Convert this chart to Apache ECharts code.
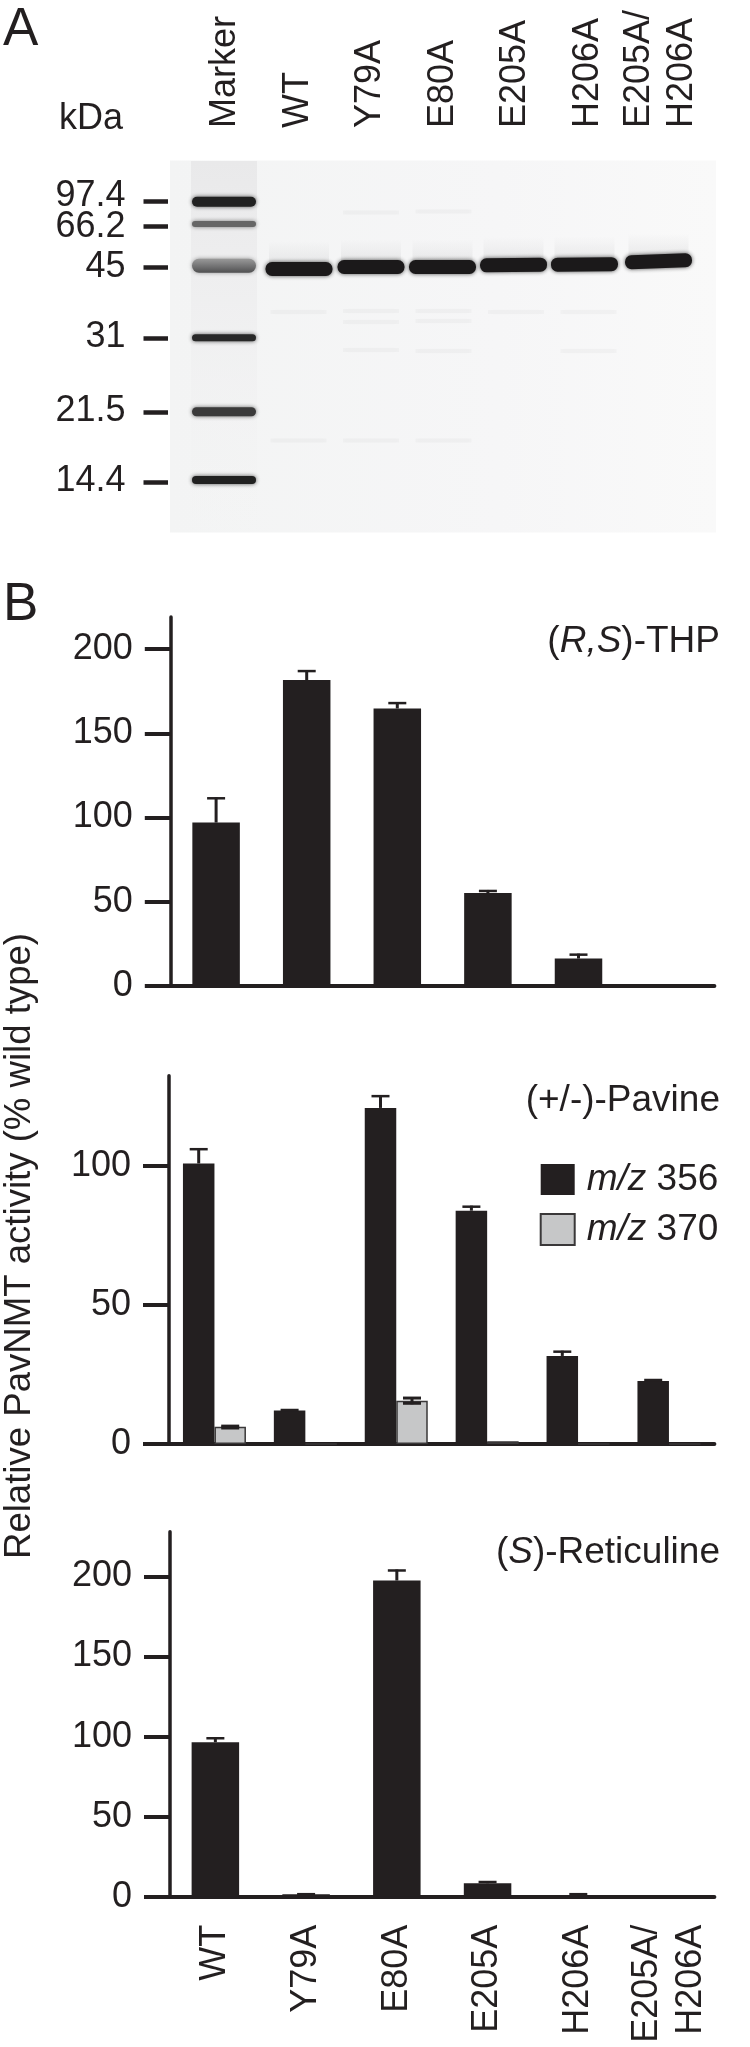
<!DOCTYPE html>
<html>
<head>
<meta charset="utf-8">
<style>html,body{margin:0;padding:0;background:#fff}#c{width:750px;height:2047px}</style>
<script src="https://cdn.jsdelivr.net/npm/echarts@6/dist/echarts.min.js"></script>
</head>
<body>
<div id="c"></div>
<script>
// ---- data ----
const lanes = ['Marker','WT','Y79A','E80A','E205A','H206A','E205A/\nH206A'];
const mutants = ['WT','Y79A','E80A','E205A','H206A','E205A/\nH206A'];
// Gel: migration distance from the top of the gel
const kdaLabels = ['97.4','66.2','45','31','21.5','14.4'];
const kdaTickMigration = [39.8,65,106,177,251,321];
const kdaLabelMigration = [34.6,66.4,106,176,250.5,320];
const markerMigration = [40.7,63,104.7,176.7,250.7,319];
const markerDarkness = [0.95,0.68,0.55,0.92,0.85,0.95];
const markerThickness = [10,6,14,7,9,8];
const sampleMigration = [108,106,106,104,103.4,100.3];
const faintMigration = [
  [2,51.5],[3,50.5],
  [1,151],[2,150],[3,150],[4,151],[5,151],
  [2,161],[3,160],
  [2,189],[3,190],[5,190],
  [1,279.5],[2,279.5],[3,279.5]
];
// Panel B, values (%)
const thp = [97,181.6,164.7,55.2,16.3,0];
const thpErr = [112,187.5,168.5,57,19.2,0];
const pavine356 = [101,12.1,121,84,31.7,22.7];
const pavine356Err = [106.5,12.6,125.6,85.8,33.6,23.4];
const pavine370 = [6.2,0,15.6,1,0,0];
const pavine370Hi = [6.8,0,16.9,0,0,0];
const pavine370Lo = [5.4,0,14.3,0,0,0];
const ret = [96.5,1.5,197.5,8.4,0.5,0];
const retErr = [99.6,2.2,204.4,9.8,2.2,0];
const ticksThp = [0,50,100,150,200];
const ticksPav = [0,50,100];
const ticksRet = [0,50,100,150,200];
// ---- style ----
const INK = '#231f20', FONT = '"Liberation Sans", Arial, sans-serif';
const sampleDrift = [1,0.5,-0.5,-2,-3.5,-2];
const sampleTilt = [0,0,0,0.01,0.01,0.035];

function errSeries(x, y, hi, lo, shift, both) {
  return {
    type:'custom', xAxisIndex:x, yAxisIndex:y, z:5, silent:true, clip:false,
    data: hi.map((h,i)=>[i,h,lo[i]]).filter(d=>d[1]>0),
    renderItem(p, api){
      const i = api.value(0), top = api.coord([i, api.value(1)]);
      const base = api.coord([i, api.value(2)]);
      const cx = top[0]+shift, s={stroke:INK,lineWidth:3};
      const kids=[
        {type:'line',shape:{x1:cx,y1:top[1],x2:cx,y2:base[1]},style:s},
        {type:'line',shape:{x1:cx-9,y1:top[1]+1,x2:cx+9,y2:top[1]+1},style:{stroke:INK,lineWidth:both?3:2.5}}
      ];
      if(both) kids.push({type:'line',shape:{x1:cx-9,y1:base[1]-1,x2:cx+9,y2:base[1]-1},style:{stroke:INK,lineWidth:3}});
      return {type:'group',children:kids};
    }
  };
}
const vGrad = (stops)=>({type:'linear',x:0,y:0,x2:0,y2:1,colorStops:stops});
function yAx(grid,max,ticks){
  return {type:'value',gridIndex:grid,min:0,max:max,splitLine:{show:false},
    axisLine:{show:true,onZero:false,lineStyle:{color:INK,width:3.5}},
    axisTick:{show:true,length:26,lineStyle:{color:INK,width:4},customValues:ticks},
    axisLabel:{show:true,margin:38,color:INK,fontFamily:FONT,fontSize:36,customValues:ticks}};
}
function xAx(grid,showLabels){
  return {type:'category',gridIndex:grid,data:mutants,
    axisLine:{show:true,onZero:false,lineStyle:{color:INK,width:4}},axisTick:{show:false},
    axisLabel:showLabels?{show:true,rotate:90,interval:0,margin:28,color:INK,fontFamily:FONT,fontSize:36,lineHeight:44.5,align:'right',verticalAlign:'middle',overflow:'none'}:{show:false}};
}
function bar(name,x,y,data,color,w,extra){
  return Object.assign({name,type:'bar',xAxisIndex:x,yAxisIndex:y,data,barWidth:w,barGap:0,silent:true,itemStyle:{color}},extra||{});
}
function titleAt(text,cy){
  return {text,right:30,top:cy-16,padding:0,textStyle:{color:INK,fontFamily:FONT,fontSize:37,fontWeight:'normal',lineHeight:40,
    rich:{i:{fontStyle:'italic',color:INK,fontFamily:FONT,fontSize:37,lineHeight:40}}}};
}
function letter(text,cy){
  return {text,left:3,top:cy-30,padding:0,textStyle:{color:INK,fontFamily:FONT,fontSize:53,fontWeight:'normal',lineHeight:60}};
}
// gel kDa axis: two stacked axes, so closely spaced labels are both kept
function gelAx(tickVals,labelVals){
  return {type:'value',gridIndex:0,position:'left',inverse:true,min:0,max:371,offset:21.25,splitLine:{show:false},axisLine:{show:false,onZero:false},
    axisTick:{show:!!tickVals,length:24.5,lineStyle:{color:INK,width:4.5},customValues:tickVals||[]},
    axisLabel:{show:true,showMinLabel:true,showMaxLabel:true,hideOverlap:false,margin:42.5,color:INK,fontFamily:FONT,fontSize:36,customValues:labelVals,
      formatter:v=>kdaLabels[kdaLabelMigration.indexOf(v)]}};
}

const option = {
  animation:false, backgroundColor:'#fff',
  title:[ letter('A',30), letter('B',605),
    titleAt('({i|R,S})-THP',638), titleAt('(+/-)-Pavine',1097), titleAt('({i|S})-Reticuline',1549),
    {text:'kDa',left:59,top:99,padding:0,textStyle:{color:INK,fontFamily:FONT,fontSize:36,fontWeight:'normal',lineHeight:40}}
  ],
  legend:{ data:['m/z 356','m/z 370'], orient:'vertical', left:539.7, top:1161, padding:0, icon:'rect', itemWidth:34, itemHeight:31, itemGap:13, selectedMode:false,
    formatter:n=>'{i|m/z} {n|'+n.split(' ')[1]+'}',
    textStyle:{color:INK,fontFamily:FONT,fontSize:37,lineHeight:31,
      rich:{i:{fontStyle:'italic',fontSize:37,color:INK,fontFamily:FONT,lineHeight:31,padding:[0,0,0,7]},n:{fontSize:37,color:INK,fontFamily:FONT,lineHeight:31}}}},
  graphic:[
    {type:'rect',z:0,silent:true,shape:{x:170,y:160.5,width:546,height:372},
     style:{fill:{type:'linear',x:0,y:0,x2:1,y2:0,colorStops:[{offset:0,color:'#f3f4f4'},{offset:.6,color:'#f6f6f7'},{offset:1,color:'#f9f9f9'}]}}},
    {type:'text',z:10,silent:true,x:19.5,y:1246,rotation:Math.PI/2,
     style:{text:'Relative PavNMT activity (% wild type)',fill:INK,font:'36.6px '+FONT,align:'center',verticalAlign:'middle'}}
  ],
  grid:[
    {left:189.25,width:507.5,top:161,height:371},
    {left:170.8,width:543.6,top:617,height:369},
    {left:169,width:545.4,top:1075.7,height:368.3},
    {left:170,width:544.4,top:1531.7,height:365}
  ],
  xAxis:[
    {type:'category',gridIndex:0,position:'top',data:lanes,axisLine:{show:false,onZero:false},axisTick:{show:false},
     axisLabel:{show:true,rotate:-90,interval:0,margin:33,color:INK,fontFamily:FONT,fontSize:36,lineHeight:43,align:'left',verticalAlign:'middle',overflow:'none'}},
    xAx(1,false), xAx(2,false), xAx(3,true)
  ],
  yAxis:[
    gelAx(kdaTickMigration,kdaLabelMigration.filter((v,i)=>i!==1)),
    yAx(1,219,ticksThp), yAx(2,132.6,ticksPav), yAx(3,228,ticksRet),
    gelAx(null,[kdaLabelMigration[1]])
  ],
  series:[
    // gel: marker-lane background
    {type:'custom',xAxisIndex:0,yAxisIndex:0,silent:true,z:1,data:[[0,0,371]],
     renderItem(p,api){
       const a=api.coord([0,api.value(1)]),b=api.coord([0,api.value(2)]);
       return {type:'rect',shape:{x:a[0]-34.5,y:a[1],width:66,height:b[1]-a[1]},
         style:{fill:vGrad([{offset:0,color:'#e9e9ea'},{offset:.3,color:'#eeeeef'},{offset:.7,color:'rgba(240,240,241,.4)'},{offset:1,color:'rgba(242,242,242,0)'}])}};
     }},
    // gel: faint contaminant bands
    {type:'custom',xAxisIndex:0,yAxisIndex:0,silent:true,z:2,data:faintMigration,
     renderItem(p,api){
       const c=api.coord([api.value(0),api.value(1)]);
       return {type:'rect',shape:{x:c[0]-27.5,y:c[1]-2,width:56,height:4},
         style:{fill:'rgba(170,170,175,.07)',shadowBlur:6,shadowColor:'rgba(170,170,175,.18)'}};
     }},
    // gel: marker bands
    {type:'custom',xAxisIndex:0,yAxisIndex:0,silent:true,z:3,data:markerMigration.map((m,i)=>[0,m,i]),
     renderItem(p,api){
       const i=api.value(2),c=api.coord([0,api.value(1)]),h=markerThickness[i],d=markerDarkness[i];
       const g=Math.round(255*(1-d))+20;
       const dark='rgb('+g+','+g+','+g+')';
       return {type:'rect',shape:{x:c[0]-33.5,y:c[1]-h/2,width:64,height:h,r:h/2},
         style:{fill:i===2?vGrad([{offset:0,color:'#9a9a9a'},{offset:.6,color:'#6e6e6f'},{offset:1,color:'#505051'}]):dark,
           shadowBlur:4,shadowColor:'rgba(30,30,30,'+(d*.8)+')'}};
     }},
    // gel: protein bands with a smear above
    {type:'custom',xAxisIndex:0,yAxisIndex:0,silent:true,z:3,data:sampleMigration.map((m,i)=>[i+1,m,i]),
     renderItem(p,api){
       const i=api.value(2),c=api.coord([api.value(0),api.value(1)]),cx=c[0]+sampleDrift[i];
       return {type:'group',children:[
         {type:'rect',shape:{x:cx-30,y:c[1]-28,width:60,height:24},
          style:{fill:vGrad([{offset:0,color:'rgba(180,180,182,0)'},{offset:1,color:'rgba(180,180,182,.22)'}])}},
         {type:'rect',originX:cx,originY:c[1],rotation:sampleTilt[i],shape:{x:cx-33.5,y:c[1]-7,width:67,height:14,r:6.5},
          style:{fill:'#1b191a',shadowBlur:4,shadowColor:'rgba(20,20,20,.75)'}}
       ]};
     }},
    // panel 1
    bar('thp',1,1,thp,INK,47.5),
    errSeries(1,1,thpErr,thp,0,false),
    // panel 2
    bar('m/z 356',2,2,pavine356,INK,31.5),
    bar('m/z 370',2,2,pavine370,'#c6c7c8',31.5,{itemStyle:{color:'#c6c7c8',borderColor:'#3a3839',borderWidth:1.5}}),
    errSeries(2,2,pavine356Err,pavine356,-15.75,false),
    errSeries(2,2,pavine370Hi,pavine370Lo,15.75,true),
    // panel 3
    bar('ret',3,3,ret,INK,47.5),
    errSeries(3,3,retErr,ret,0,false)
  ]
};
const chart = echarts.init(document.getElementById('c'),null,{renderer:'canvas',width:750,height:2047});
chart.setOption(option);
</script>
</body>
</html>
